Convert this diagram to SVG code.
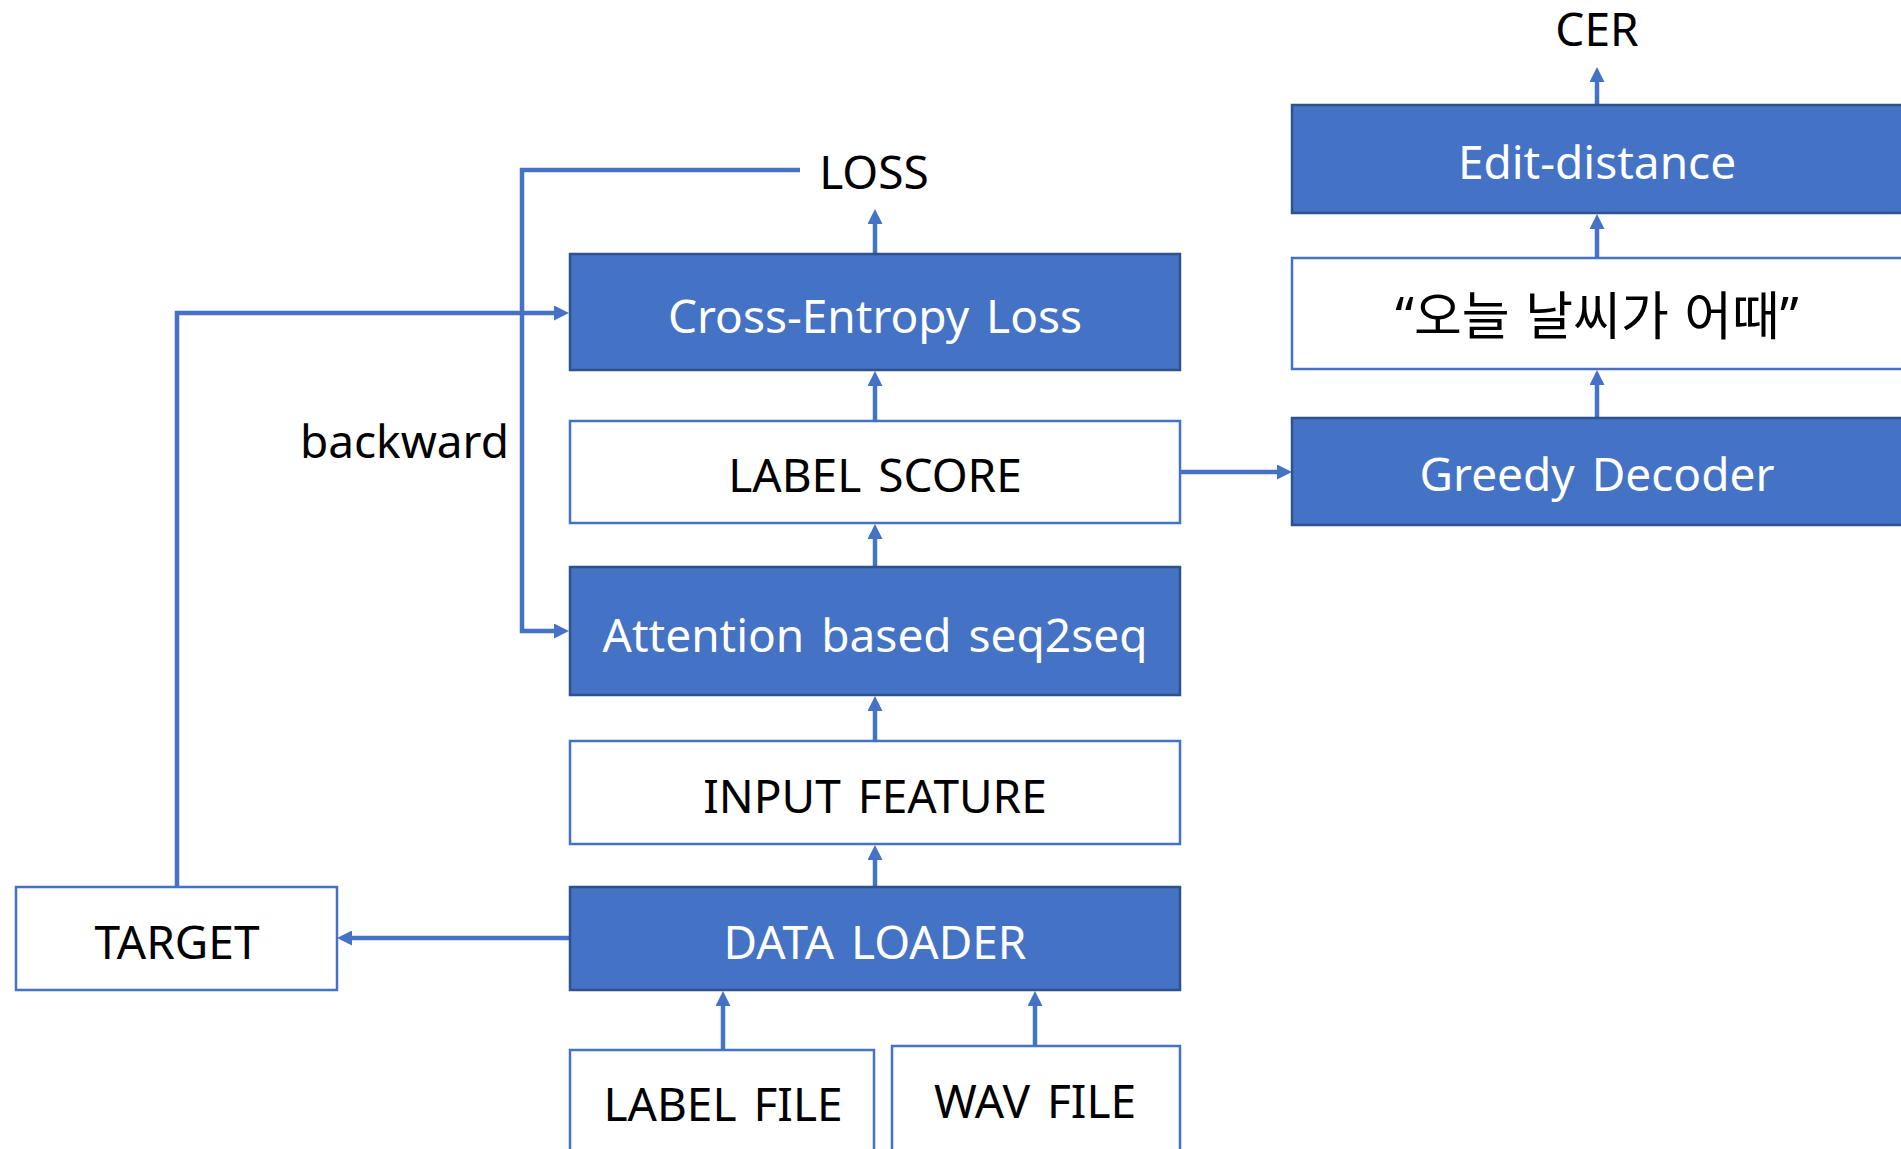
<svg xmlns="http://www.w3.org/2000/svg" width="1901" height="1149" viewBox="0 0 1901 1149">
<defs>
<style>
.fill{fill:#4472C4;stroke:#2F528F;stroke-width:2.5}
.open{fill:#FFFFFF;stroke:#4472C4;stroke-width:2.5}
text{font-family:"Noto Sans","Noto Sans CJK KR","Liberation Sans",sans-serif;font-size:46px;word-spacing:5px;text-anchor:middle}
.ko{font-size:52px;word-spacing:2px}
.w{fill:#FFFFFF}
.k{fill:#000000}
.conn{fill:none;stroke:#4472C4;stroke-width:4.5;marker-end:url(#ah)}
</style>
<marker id="ah" viewBox="0 0 15 15" refX="1" refY="7.5" markerWidth="15" markerHeight="15" markerUnits="userSpaceOnUse" orient="auto">
<path d="M0,0 L15,7.5 L0,15 z" fill="#4472C4"/>
</marker>
</defs>
<rect width="1901" height="1149" fill="#FFFFFF"/>
<g id="connectors">
<path class="conn" d="M875 254 V223"/>
<path class="conn" d="M875 421 V385"/>
<path class="conn" d="M875 567 V538"/>
<path class="conn" d="M875 741 V710"/>
<path class="conn" d="M875 887 V859"/>
<path class="conn" d="M723 1050 V1005"/>
<path class="conn" d="M1035 1046 V1005"/>
<path class="conn" d="M570 938 H351"/>
<path class="conn" d="M177 887 V313 H555"/>
<path class="conn" d="M800 170 H522 V631 H555"/>
<path class="conn" d="M1181 472 H1278"/>
<path class="conn" d="M1597 418 V384"/>
<path class="conn" d="M1597 258 V228"/>
<path class="conn" d="M1597 105 V81"/>
</g>
<g id="cer"><text class="k" x="1597" y="46">CER</text></g>
<g id="loss"><text class="k" x="874" y="189">LOSS</text></g>
<g id="backward"><text class="k" x="509" y="458" style="text-anchor:end">backward</text></g>
<g id="cross-entropy"><rect class="fill" x="570" y="254" width="610" height="116"/><text class="w" x="875" y="333">Cross-Entropy Loss</text></g>
<g id="label-score"><rect class="open" x="570" y="421" width="610" height="102"/><text class="k" x="875" y="492">LABEL SCORE</text></g>
<g id="seq2seq"><rect class="fill" x="570" y="567" width="610" height="128"/><text class="w" x="875" y="652">Attention based seq2seq</text></g>
<g id="input-feature"><rect class="open" x="570" y="741" width="610" height="103"/><text class="k" x="875" y="813">INPUT FEATURE</text></g>
<g id="data-loader"><rect class="fill" x="570" y="887" width="610" height="103"/><text class="w" x="875" y="959">DATA LOADER</text></g>
<g id="target"><rect class="open" x="16" y="887" width="321" height="103"/><text class="k" x="177" y="959">TARGET</text></g>
<g id="label-file"><rect class="open" x="570" y="1050" width="304" height="110"/><text class="k" x="723" y="1121">LABEL FILE</text></g>
<g id="wav-file"><rect class="open" x="892" y="1046" width="288" height="114"/><text class="k" x="1035" y="1118">WAV FILE</text></g>
<g id="edit-distance"><rect class="fill" x="1292" y="105" width="612" height="108"/><text class="w" x="1597" y="179">Edit-distance</text></g>
<g id="sentence"><rect class="open" x="1292" y="258" width="612" height="111"/><text class="k ko" x="1597" y="335">“오늘 날씨가 어때”</text></g>
<g id="greedy-decoder"><rect class="fill" x="1292" y="418" width="612" height="107"/><text class="w" x="1597" y="491">Greedy Decoder</text></g>
</svg>
